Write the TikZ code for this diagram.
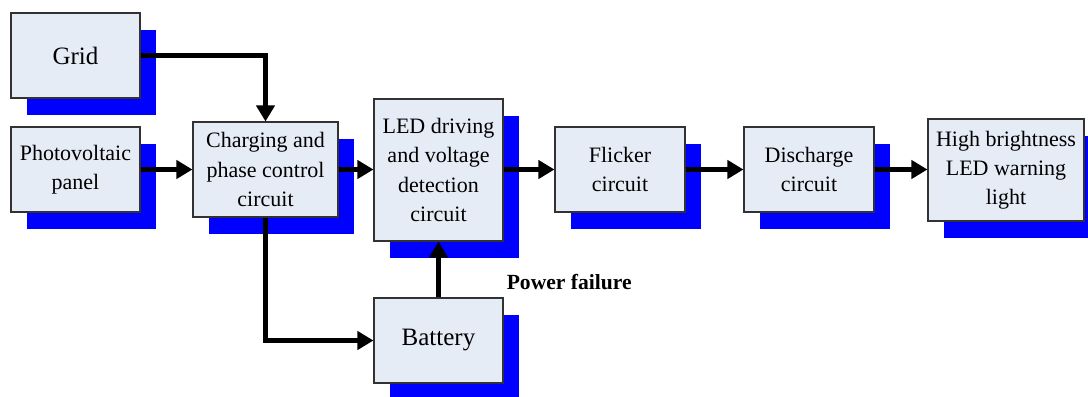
\documentclass[tikz,border=0pt]{standalone}
\usepackage{fontspec}
\setmainfont{Liberation Serif}
\usetikzlibrary{arrows.meta,shadows}
\definecolor{boxfill}{RGB}{230,236,246}
\definecolor{boxline}{RGB}{50,50,50}
\begin{document}
\begin{tikzpicture}[x=0.75pt,y=-0.75pt,
  blk/.style={draw=boxline,line width=0.8pt,fill=boxfill,align=center,
    inner sep=0pt,font=\fontsize{16.5}{21.8}\selectfont,
    drop shadow={shadow xshift=12pt,shadow yshift=-12.75pt,fill=blue,opacity=1}},
  conn/.style={line width=3.2pt,-{Triangle[length=12pt,width=13.5pt]}}]
\useasboundingbox (0,0) rectangle (1088,396);
\node[blk,minimum width=96.75pt,minimum height=63.75pt,font=\fontsize{18.75}{22}\selectfont] (grid) at (75.5,55.5) {Grid};
\node[blk,minimum width=96.75pt,minimum height=63.75pt] (pv) at (75.5,169.5) {Photovoltaic\\panel};
\node[blk,minimum width=108.75pt,minimum height=71.25pt] (chg) at (265.5,169.5) {Charging and\\phase control\\circuit};
\node[blk,minimum width=96.75pt,minimum height=106.5pt] (led) at (438.5,170) {LED driving\\and voltage\\detection\\circuit};
\node[blk,minimum width=96.75pt,minimum height=63.75pt,font=\fontsize{18.75}{22}\selectfont] (bat) at (438.5,340.5) {Battery};
\node[blk,minimum width=97.5pt,minimum height=63.75pt] (flk) at (620,169.5) {Flicker\\circuit};
\node[blk,minimum width=97.5pt,minimum height=63.75pt] (dis) at (809,169.5) {Discharge\\circuit};
\node[blk,minimum width=117pt,minimum height=76.5pt] (hb) at (1006,170) {High brightness\\LED warning\\light};
\node[anchor=west,inner sep=0pt,font=\bfseries\fontsize{16.2}{20}\selectfont] (pf) at (506.5,282.5) {Power failure};
\draw[conn] (grid.east) -| (chg.north);
\draw[conn] (pv.east) -- (chg.west);
\draw[conn] (chg.east) -- (chg.east -| led.west);
\draw[conn] (chg.south) |- (bat.west);
\draw[conn] (bat.north) -- (led.south);
\draw[conn] (led.east |- flk.west) -- (flk.west);
\draw[conn] (flk.east) -- (dis.west);
\draw[conn] (dis.east) -- (dis.east -| hb.west);
\end{tikzpicture}
\end{document}
